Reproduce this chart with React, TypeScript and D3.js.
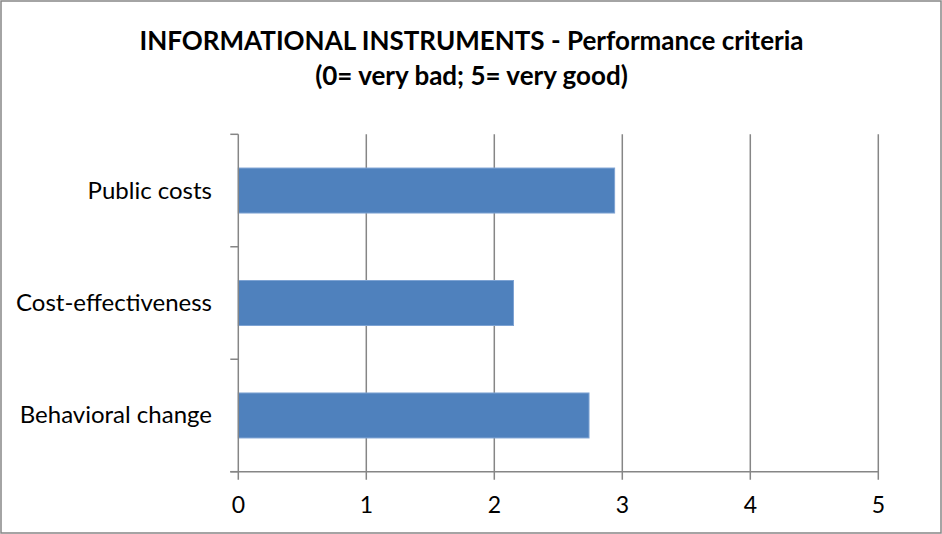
import React from "react";
import * as d3 from "d3";

const categories = ["Public costs", "Cost-effectiveness", "Behavioral change"];
const values = [2.94, 2.15, 2.74];
const xTicks = [0, 1, 2, 3, 4, 5];
const titleLines = ["INFORMATIONAL INSTRUMENTS - Performance criteria", "(0= very bad; 5= very good)"];

const W = 942;
const H = 534;
const FONT = "Lato, 'Open Sans', sans-serif";

export default function App() {
  const left = 238.3, right = 878.3, top = 134.3, bottom = 471.7;
  const x = d3.scaleLinear().domain([0, 5]).range([left, right]);
  const y = d3.scaleBand<string>().domain(categories).range([top, bottom]).paddingInner(0.6).paddingOuter(0.3);
  const step = (bottom - top) / categories.length;
  const boundaries = d3.range(categories.length + 1).map((i) => top + i * step);
  const grid = "#868686";
  return (
    <svg width={W} height={H} style={{ position: "absolute", left: 0, top: 0, background: "#fff" }}>
      <rect x={1} y={1} width={W - 2} height={H - 2} fill="#fff" stroke="#868686" strokeWidth={1.5} />
      {titleLines.map((t, i) => (
        <text key={i} x={471.5} y={49.5 + i * 35.5} textAnchor="middle" fontFamily={FONT} fontWeight="bold" fontSize={26} fill="#000">
          {t}
        </text>
      ))}
      {xTicks.filter((t) => t > 0).map((t) => (
        <line key={t} x1={x(t)} x2={x(t)} y1={top} y2={bottom + 8} stroke={grid} strokeWidth={1.5} />
      ))}
      {categories.map((c, i) => (
        <rect key={c} x={x(0)} y={y(c)} width={x(values[i]) - x(0)} height={y.bandwidth()} fill="#4f81bd" stroke="#7ea3d3" strokeWidth={1} />
      ))}
      <line x1={x(0)} x2={x(0)} y1={top} y2={bottom + 8} stroke={grid} strokeWidth={1.5} />
      <line x1={left - 8} x2={right} y1={bottom} y2={bottom} stroke={grid} strokeWidth={1.5} />
      {boundaries.map((b, i) => (
        <line key={i} x1={left - 8} x2={left} y1={b} y2={b} stroke={grid} strokeWidth={1.5} />
      ))}
      {categories.map((c) => (
        <text key={c} x={212} y={(y(c) as number) + y.bandwidth() / 2 + 8} textAnchor="end" fontFamily={FONT} fontSize={24} fill="#000">
          {c}
        </text>
      ))}
      {xTicks.map((t) => (
        <text key={t} x={x(t)} y={513} textAnchor="middle" fontFamily={FONT} fontSize={23} fill="#000">
          {t}
        </text>
      ))}
    </svg>
  );
}
